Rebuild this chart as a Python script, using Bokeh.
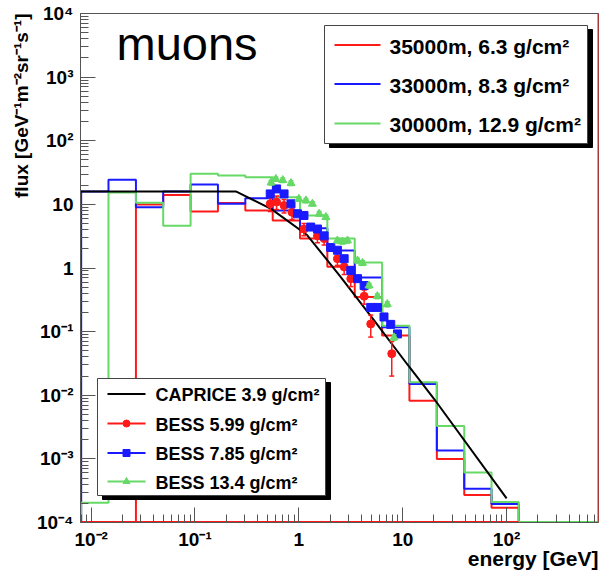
import numpy as np
from bokeh.plotting import figure
from bokeh.models import Label, Span, FixedTicker, CustomJSTickFormatter, Title
from bokeh.core.properties import value
from bokeh.embed import file_html
from bokeh.resources import INLINE

# ---------------- data ----------------
bin_edges = [0.00802, 0.01469, 0.0270, 0.0494, 0.0907, 0.1663, 0.305, 0.560,
             1.026, 1.88, 3.45, 6.33, 11.6, 21.3, 39.1, 71.6, 131.0]
flux_35000m = [0, 0, 10.0, 14.1, 7.7, 10.5, 8.0, 5.6, 2.9, 1.05, 0.35, 0.087,
               0.0082, 0.0010, 0.00027, 0.00017]
flux_33000m = [15.9, 24.3, 9.0, 16.0, 20.5, 10.2, 12.5, 8.0, 4.2, 1.88, 0.71,
               0.117, 0.015, 0.00135, 0.00034, 0.000195]
flux_30000m = [0.000205, 15.3, 10.6, 4.6, 30.2, 28.4, 26.7, 12.9, 6.7, 2.9,
               1.22, 0.124, 0.016, 0.0033, 0.00061, 0.00021]

caprice_e = [0.0079, 0.25, 0.54, 1.2, 2.5, 5.3, 11.0, 20.0, 100.0]
caprice_flux = [15.9, 15.9, 8.5, 3.3, 0.74, 0.15, 0.031, 0.0088, 0.00024]

bess599_e = [0.53, 0.61, 0.72, 0.86, 1.12, 1.51, 1.75, 2.35, 2.73, 3.16, 4.25, 4.92, 7.84]
bess599_flux = [10.2, 10.9, 9.6, 7.5, 4.1, 3.2, 2.9, 1.4, 1.04, 0.68, 0.36, 0.132, 0.045]
bess599_err = [2.5, 2.6, 2.3, 1.7, 0.9, 0.7, 0.6, 0.3, 0.25, 0.17, 0.09, 0.05, 0.025]

bess785_e = [0.53, 0.61, 0.72, 0.84, 0.97, 1.12, 1.30, 1.51, 1.75, 2.03, 2.35,
             2.73, 3.16, 3.67, 4.25, 4.92, 5.7, 6.6, 7.66, 8.9]
bess785_flux = [14.6, 17.5, 14.6, 10.2, 7.1, 6.7, 4.4, 4.1, 3.2, 2.1, 1.9, 1.4,
                0.91, 0.68, 0.53, 0.24, 0.24, 0.17, 0.13, 0.092]
bess785_err = [1.2, 1.4, 1.2, 0.8, 0.6, 0.5, 0.35, 0.3, 0.25, 0.17, 0.15, 0.11,
               0.07, 0.055, 0.045, 0.02, 0.02, 0.015, 0.012, 0.009]

bess134_e = [0.54, 0.60, 0.70, 0.84, 1.0, 1.17, 1.35, 1.57, 1.82, 2.35, 2.63,
             2.94, 3.67, 4.1, 4.74, 5.7, 7.1, 8.25]
bess134_flux = [22, 25, 24, 21.5, 12.2, 11.5, 10.2, 7.1, 6.3, 2.7, 2.6, 2.7,
                1.31, 1.2, 0.53, 0.36, 0.27, 0.081]
bess134_err = [1.8, 2.0, 1.9, 1.7, 1.0, 0.9, 0.8, 0.6, 0.5, 0.22, 0.21, 0.22,
               0.11, 0.1, 0.045, 0.03, 0.025, 0.008]

hist_labels = ["35000m, 6.3 g/cm\u00b2", "33000m, 8.3 g/cm\u00b2", "30000m, 12.9 g/cm\u00b2"]
data_labels = ["CAPRICE 3.9 g/cm\u00b2", "BESS 5.99 g/cm\u00b2", "BESS 7.85 g/cm\u00b2", "BESS 13.4 g/cm\u00b2"]
x_title = "energy [GeV]"
y_title = "flux [GeV\u207b\u00b9m\u207b\u00b2sr\u207b\u00b9s\u207b\u00b9]"

x_major = [0.01, 0.1, 1, 10, 100]
y_major = [1e-4, 1e-3, 1e-2, 1e-1, 1, 10, 100, 1e3, 1e4]

# ---------------- layout ----------------
X0, X1 = 0.0079, 767.0
Y0, Y1 = 1e-4, 1e4
FL, FR, FT, FB = 80, 598, 13, 522
RED, BLUE, GREEN = "#ff1a1a", "#1a1aff", "#66d966"
FONT = "Liberation Sans"


def px_x(px):
    lx0, lx1 = np.log10(X0), np.log10(X1)
    return 10 ** (lx0 + (px - FL) / (FR - FL) * (lx1 - lx0))


def px_y(py):
    ly0, ly1 = np.log10(Y0), np.log10(Y1)
    return 10 ** (ly1 - (py - FT) / (FB - FT) * (ly1 - ly0))


p = figure(frame_width=FR - FL, frame_height=FB - FT, x_axis_type="log", y_axis_type="log",
           x_range=(X0, X1), y_range=(Y0, Y1), output_backend="svg",
           toolbar_location=None, min_border_left=FL, min_border_right=600 - FR,
           min_border_top=FT, min_border_bottom=0)
p.grid.visible = False
p.outline_line_color = "#555555"
p.background_fill_color = "white"
p.border_fill_color = "white"

x_minor = [k * 10.0 ** n for n in range(-3, 3) for k in range(2, 10)]
y_minor = [k * 10.0 ** n for n in range(-4, 4) for k in range(2, 10)]
p.xaxis.ticker = FixedTicker(ticks=x_major, minor_ticks=[t for t in x_minor if X0 < t < X1])
p.yaxis.ticker = FixedTicker(ticks=y_major, minor_ticks=y_minor)
fmt = CustomJSTickFormatter(code="""
const e = Math.round(Math.log10(tick));
if (e == 0) return "1";
if (e == 1) return "10";
const sup = {"-":"\u207b","0":"\u2070","1":"\u00b9","2":"\u00b2","3":"\u00b3","4":"\u2074",
             "5":"\u2075","6":"\u2076","7":"\u2077","8":"\u2078","9":"\u2079"};
return "10" + String(e).split("").map(c => sup[c]).join("");
""")
for ax in (p.xaxis, p.yaxis):
    ax.formatter = fmt
    ax.major_tick_in = 15
    ax.major_tick_out = 0
    ax.minor_tick_in = 8
    ax.minor_tick_out = 0
    ax.axis_line_color = "#555555"
    ax.major_tick_line_color = "#555555"
    ax.minor_tick_line_color = "#555555"
    ax.major_label_text_font = FONT
    ax.major_label_text_font_style = "bold"
    ax.major_label_text_font_size = "19px"
    ax.major_label_text_color = "black"
p.xaxis.major_label_standoff = 6
p.yaxis.major_label_standoff = 7

# axis titles as side-panel titles (right / top aligned, like ROOT)
p.add_layout(Title(text=x_title, align="right", vertical_align="top", text_font=FONT,
                   text_font_style="bold", text_font_size="21px", text_color="black",
                   standoff=-12, offset=0), "below")
# small spacer panel so that the raised title is not clipped
p.add_layout(Title(text=" ", text_font_size="8px", standoff=-2), "below")
p.add_layout(Title(text=y_title, align="right", text_font=FONT, text_font_style="bold",
                   text_font_size="19px", text_color="black", standoff=4, offset=0), "left")


def hist_path(edges, vals):
    xs, ys = [edges[0]], [Y0]
    for i, v in enumerate(vals):
        vv = v if v > 0 else Y0
        xs += [edges[i], edges[i + 1]]
        ys += [vv, vv]
    xs.append(edges[-1])
    ys.append(Y0)
    return xs, ys


for vals, col in ((flux_35000m, RED), (flux_33000m, BLUE), (flux_30000m, GREEN)):
    xs, ys = hist_path(bin_edges, vals)
    p.line(xs, ys, line_color=col, line_width=2)

# baselines of empty bins
p.line([X0, bin_edges[-1]], [Y0, Y0], line_color=RED, line_width=3)
p.line([bin_edges[-1], X1], [Y0, Y0], line_color=GREEN, line_width=3)

# CAPRICE
p.line(caprice_e, caprice_flux, line_color="black", line_width=2)


def points(e, f, err, col, marker, size):
    e = np.array(e); f = np.array(f); err = np.array(err)
    p.segment(e, f - err, e, f + err, line_color=col, line_width=1.5)
    p.scatter(np.concatenate([e, e]), np.concatenate([f - err, f + err]),
              marker="dash", size=5, line_color=col, line_width=1.5)
    p.scatter(e, f, marker=marker, size=size, fill_color=col, line_color=col)


points(bess599_e, bess599_flux, bess599_err, RED, "circle", 8)
points(bess785_e, bess785_flux, bess785_err, BLUE, "square", 8)
points(bess134_e, bess134_flux, bess134_err, GREEN, "triangle", 8)

# right frame red line
p.add_layout(Span(location=X1, dimension="height", line_color=RED, line_width=2))

# ---------------- legends ----------------
def legend_box(l, t, r, b):
    p.quad(left=px_x(l + 5), right=px_x(r + 5), top=px_y(t + 4), bottom=px_y(b + 4),
           fill_color="black", line_color="black")
    p.quad(left=px_x(l), right=px_x(r), top=px_y(t), bottom=px_y(b),
           fill_color="white", line_color="#444444", line_width=1)


legend_box(324, 25, 587, 143)
for lab, col, yy in zip(hist_labels, (RED, BLUE, GREEN), (44.5, 83.5, 123)):
    p.line([px_x(334), px_x(380)], [px_y(yy), px_y(yy)], line_color=col, line_width=2)
    p.text(x=[px_x(389)], y=[px_y(yy + 1)], text=[lab], text_font=value(FONT),
           text_font_style="bold", text_font_size="21px", text_baseline="middle",
           text_color="black")

legend_box(97, 378, 325, 495)
for lab, col, yy, mk in zip(data_labels, ("black", RED, BLUE, GREEN),
                            (393.5, 423, 452.5, 481), (None, "circle", "square", "triangle")):
    p.line([px_x(107), px_x(145)], [px_y(yy), px_y(yy)], line_color=col, line_width=2)
    if mk:
        p.scatter([px_x(126)], [px_y(yy)], marker=mk, size=7, fill_color=col, line_color=col)
    p.text(x=[px_x(155)], y=[px_y(yy + 1)], text=[lab], text_font=value(FONT),
           text_font_style="bold", text_font_size="18px", text_baseline="middle",
           text_color="black")

# ---------------- texts ----------------
p.add_layout(Label(x=px_x(116), y=px_y(69), text="muons", text_font=FONT,
                   text_font_size="47px", text_color="black"))

open("out.html", "w").write(file_html(p, INLINE))
